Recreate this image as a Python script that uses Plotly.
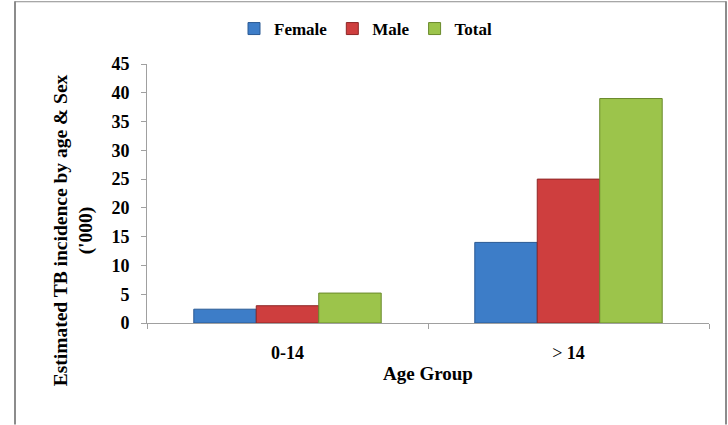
import plotly.graph_objects as go

# Estimated TB incidence ('000) by age group and sex
age_groups = ["0-14", ">14"]
age_labels = ["0-14", "<span style='font-weight:normal'>&gt;</span> 14"]
female = [2.4, 14]
male = [3.0, 25]
total = [5.2, 39]

series = [
    ("Female", female, "#3D7DC8", "#2A5A94"),
    ("Male", male, "#CE3E3E", "#8E2626"),
    ("Total", total, "#9CC44B", "#6A8A2C"),
]

W, H = 728, 425
L, R, T, B = 147, 19, 63, 102
pw, ph = W - L - R, H - T - B


def px_x(x):
    return (x - L) / pw


def px_y(y):
    return (H - B - y) / ph


serif = "Liberation Serif, Times New Roman, serif"

fig = go.Figure()
for name, vals, fill, edge in series:
    fig.add_trace(go.Bar(
        name=name, x=age_groups, y=vals,
        marker=dict(color=fill, line=dict(color=edge, width=1)),
    ))

fig.update_layout(
    width=W, height=H,
    margin=dict(l=L, r=R, t=T, b=B, pad=0),
    paper_bgcolor="white", plot_bgcolor="white",
    barmode="group", bargap=0.333, bargroupgap=0,
    font=dict(family=serif, size=17, color="black", weight="bold"),
    legend=dict(
        orientation="h", x=px_x(366), xanchor="center",
        y=px_y(29), yanchor="middle",
        font=dict(family=serif, size=17, color="black", weight="bold"),
        itemwidth=30, tracegroupgap=0,
    ),
    showlegend=True,
)

fig.update_xaxes(
    type="category", tickvals=age_groups, ticktext=age_labels,
    showline=True, linecolor="#A0A0A0", linewidth=1,
    ticks="outside", tickson="boundaries", ticklen=5, tickcolor="#A0A0A0",
    ticklabelstandoff=13, showgrid=False, zeroline=False,
    tickfont=dict(family=serif, size=18, color="black", weight="bold"),
)
fig.update_yaxes(
    range=[0, 45], dtick=5, tick0=0,
    showline=True, linecolor="#A0A0A0", linewidth=1,
    ticks="outside", ticklen=5, tickcolor="#A0A0A0",
    ticklabelstandoff=8, showgrid=False, zeroline=False,
    tickfont=dict(family=serif, size=18, color="black", weight="bold"),
)

# axis titles
fig.add_annotation(
    text="Estimated TB incidence by age & Sex<br>('000)",
    xref="paper", yref="paper", x=px_x(73), y=px_y(230),
    xanchor="center", yanchor="middle", textangle=-90, showarrow=False,
    font=dict(family=serif, size=19.5, color="black", weight="bold"),
)
fig.add_annotation(
    text="Age Group",
    xref="paper", yref="paper", x=0.5, y=px_y(374),
    xanchor="center", yanchor="middle", showarrow=False,
    font=dict(family=serif, size=19, color="black", weight="bold"),
)

# chart-area frame
frame = dict(color="#8C8C8C", width=2)
fig.add_shape(type="line", xref="paper", yref="paper",
              x0=px_x(15), x1=px_x(15), y0=px_y(0), y1=px_y(H), line=frame)
fig.add_shape(type="line", xref="paper", yref="paper",
              x0=px_x(726), x1=px_x(726), y0=px_y(0), y1=px_y(H), line=frame)
fig.add_shape(type="line", xref="paper", yref="paper",
              x0=px_x(15), x1=px_x(726), y0=px_y(0.5), y1=px_y(0.5),
              line=dict(color="#8C8C8C", width=1))

fig.write_html("out.html")
